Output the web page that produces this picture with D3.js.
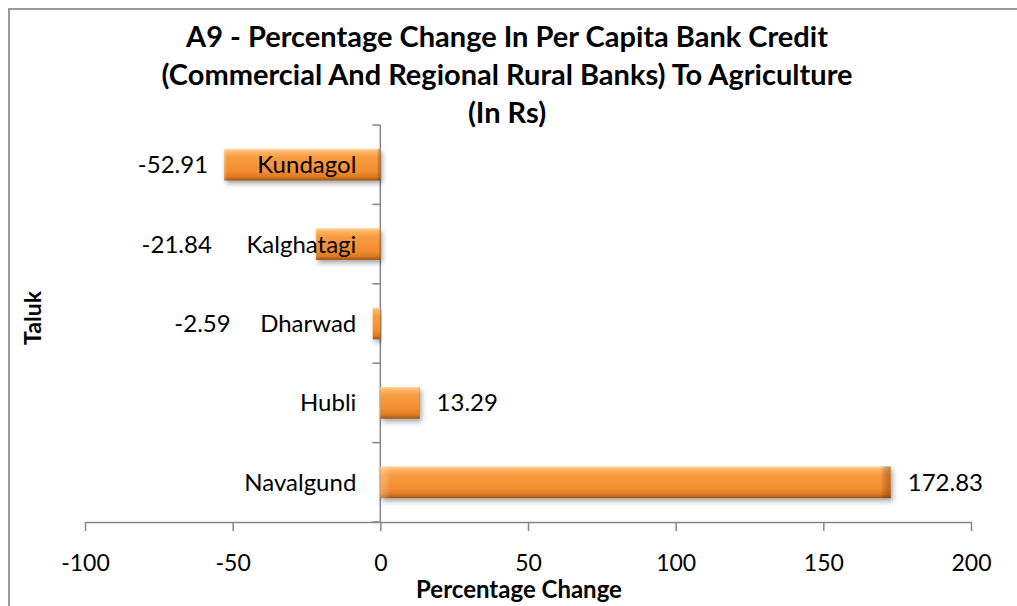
<!DOCTYPE html>
<html><head><meta charset="utf-8">
<script src="https://cdn.jsdelivr.net/npm/d3@7"></script>
<style>
html,body{margin:0;padding:0;background:#fff;}
svg{display:block;font-family:Lato, "Open Sans", sans-serif;}
</style></head>
<body>
<svg id="chart" width="1017" height="606"></svg>
<script>
const categories = ["Kundagol","Kalghatagi","Dharwad","Hubli","Navalgund"];
const values = [-52.91,-21.84,-2.59,13.29,172.83];
const valueLabels = ["-52.91","-21.84","-2.59","13.29","172.83"];
const xTicks = [-100,-50,0,50,100,150,200];
const titleLines = ["A9 - Percentage Change In Per Capita Bank Credit","(Commercial And Regional Rural Banks) To Agriculture","(In Rs)"];
// pixel offsets of data labels from bar ends (manually placed in original)
const labelOffsets = [-16,-104,-142,17,17];

const svg = d3.select("#chart");
const defs = svg.append("defs");

const g1 = defs.append("linearGradient").attr("id","barV").attr("x1",0).attr("y1",0).attr("x2",0).attr("y2",1);
[[0,"#fdd7a3"],[0.1,"#fbb565"],[0.28,"#f89a3f"],[0.7,"#f38e31"],[0.88,"#dc7a24"],[1,"#9c5418"]]
  .forEach(s=>g1.append("stop").attr("offset",s[0]).attr("stop-color",s[1]));
const g2 = defs.append("linearGradient").attr("id","barH").attr("x1",0).attr("y1",0).attr("x2",1).attr("y2",0);
[[0,"#ffe0b0",0.35],[0.02,"#ffffff",0],[0.98,"#000000",0],[1,"#7a3d0a",0.45]]
  .forEach(s=>g2.append("stop").attr("offset",s[0]).attr("stop-color",s[1]).attr("stop-opacity",s[2]));
const f = defs.append("filter").attr("id","shadow").attr("x","-10%").attr("y","-30%").attr("width","130%").attr("height","180%");
f.append("feDropShadow").attr("dx",2).attr("dy",3).attr("stdDeviation",2.5).attr("flood-color","#000").attr("flood-opacity",0.35);

// chart border
svg.append("path").attr("d","M9,606 V9 H1017").attr("fill","none").attr("stroke","#999").attr("stroke-width",2);

const x = d3.scaleLinear().domain([-100,200]).range([85,971]);
const y = d3.scaleBand().domain(categories).range([125,522]).paddingInner(0.6).paddingOuter(0.3);

// title
svg.append("g").selectAll("text").data(titleLines).join("text")
  .attr("x",507).attr("y",(d,i)=>47+i*38).attr("text-anchor","middle")
  .attr("font-size",29).attr("font-weight","bold").attr("fill","#000").text(d=>d);

// x axis
const xa = svg.append("g").attr("transform","translate(0,522)")
  .call(d3.axisBottom(x).tickValues(xTicks).tickFormat(d=>String(d)).tickSize(9).tickSizeOuter(0).tickPadding(24));
xa.select(".domain").attr("stroke","#868686").attr("stroke-width",1.5);
xa.selectAll(".tick line").attr("stroke","#868686").attr("stroke-width",1.5);
xa.selectAll(".tick text").attr("font-size",23).attr("fill","#000").attr("font-family","Lato, sans-serif");

// y axis line + boundary ticks
const step = y.step();
const bounds = d3.range(categories.length+1).map(i=>y.range()[0]+i*step);
svg.append("line").attr("x1",x(0)).attr("x2",x(0)).attr("y1",bounds[0]).attr("y2",bounds[bounds.length-1])
  .attr("stroke","#868686").attr("stroke-width",1.5);
svg.append("g").selectAll("line").data(bounds).join("line")
  .attr("x1",x(0)-8).attr("x2",x(0)).attr("y1",d=>d).attr("y2",d=>d)
  .attr("stroke","#868686").attr("stroke-width",1.5);

// bars
const bars = svg.append("g");
const data = categories.map((c,i)=>({c,v:values[i],l:valueLabels[i],o:labelOffsets[i]}));
bars.selectAll("rect.b").data(data).join("rect").attr("class","b")
  .attr("x",d=>x(Math.min(0,d.v))).attr("width",d=>Math.abs(x(d.v)-x(0)))
  .attr("y",d=>y(d.c)).attr("height",y.bandwidth())
  .attr("fill","url(#barV)").attr("filter","url(#shadow)");
bars.selectAll("rect.h").data(data).join("rect").attr("class","h")
  .attr("x",d=>x(Math.min(0,d.v))).attr("width",d=>Math.abs(x(d.v)-x(0)))
  .attr("y",d=>y(d.c)).attr("height",y.bandwidth())
  .attr("fill","url(#barH)");

// category labels
svg.append("g").selectAll("text").data(data).join("text")
  .attr("x",x(0)-24).attr("y",d=>y(d.c)+y.bandwidth()/2).attr("dy","0.35em")
  .attr("text-anchor","end").attr("font-size",24).attr("fill","#000").text(d=>d.c);

// value labels
svg.append("g").selectAll("text").data(data).join("text")
  .attr("x",d=>x(d.v)+d.o).attr("y",d=>y(d.c)+y.bandwidth()/2).attr("dy","0.35em")
  .attr("text-anchor",d=>d.v<0?"end":"start").attr("font-size",24).attr("fill","#000").text(d=>d.l);

// axis titles
svg.append("text").attr("x",519).attr("y",598).attr("text-anchor","middle")
  .attr("font-size",24).attr("font-weight","bold").text("Percentage Change");
svg.append("text").attr("transform","translate(41,318) rotate(-90)").attr("text-anchor","middle")
  .attr("font-size",23).attr("font-weight","bold").text("Taluk");
</script>
</body></html>
